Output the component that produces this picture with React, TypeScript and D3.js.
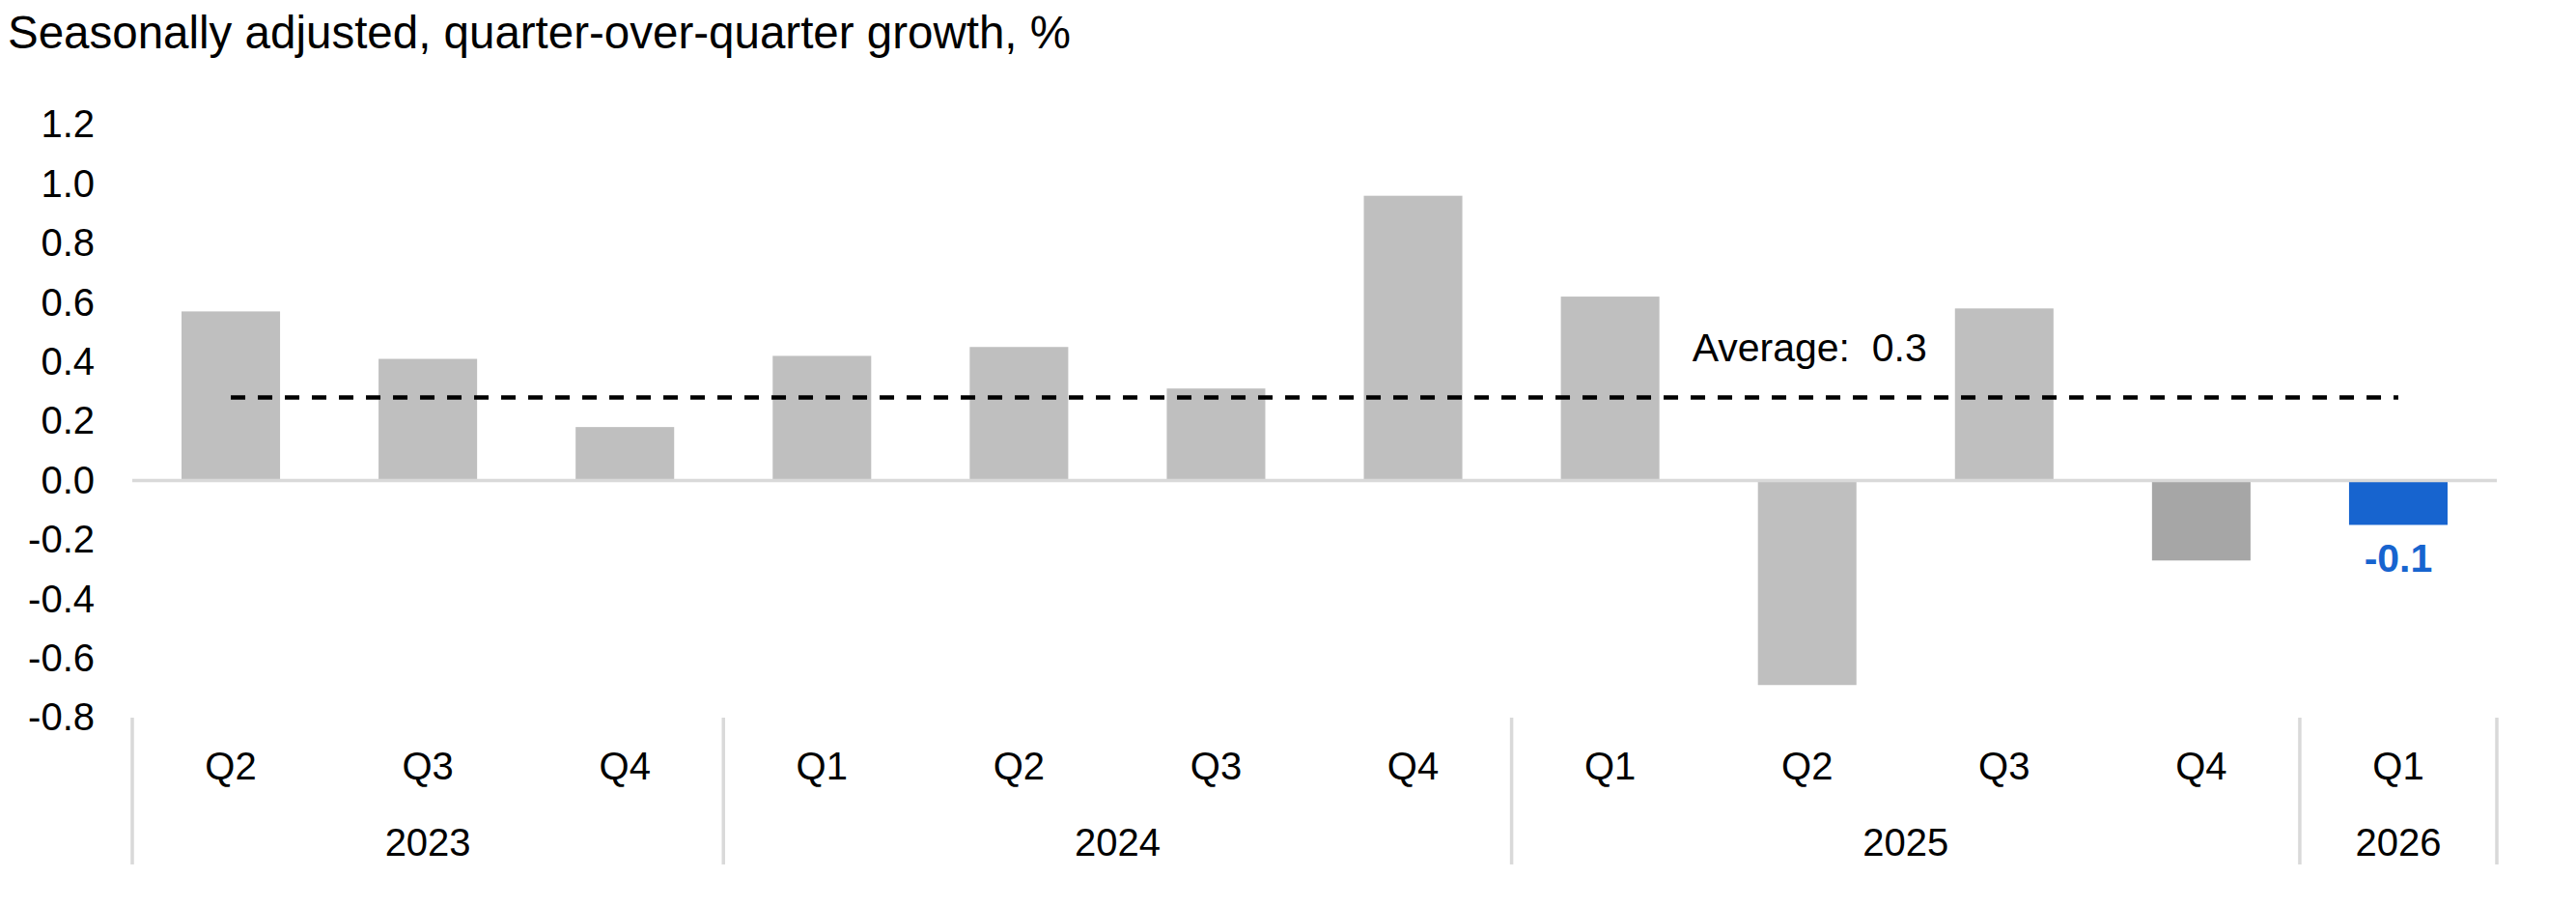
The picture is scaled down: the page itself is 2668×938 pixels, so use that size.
import { useEffect, useRef } from "react";
import * as d3 from "d3";

const W = 2668, H = 938;
const FONT = "'Liberation Sans', Arial, Helvetica, sans-serif";
const GRAY = "#bfbfbf";
const DARK = "#a6a6a6";
const BLUE = "#1764cf";
const RULE = "#d9d9d9";

// Quarterly growth, % q/q (seasonally adjusted)
const quarters = ["Q2", "Q3", "Q4", "Q1", "Q2", "Q3", "Q4", "Q1", "Q2", "Q3", "Q4", "Q1"];
const years = ["2023", "2024", "2025", "2026"];
const yearSpans = [3, 4, 4, 1];
const growth = [0.57, 0.41, 0.18, 0.42, 0.45, 0.31, 0.96, 0.62, -0.69, 0.58, -0.27, -0.15];
const average = 0.28;
const yTicks = [-0.8, -0.6, -0.4, -0.2, 0.0, 0.2, 0.4, 0.6, 0.8, 1.0, 1.2];

export default function App() {
  const ref = useRef<SVGSVGElement>(null);

  useEffect(() => {
    if (!ref.current) return;
    const svg = d3.select(ref.current);
    svg.selectAll("*").remove();

    const ML = 137, MR = 82, MT = 129, PB = 743;
    const keys = quarters.map((q, i) => `${i}-${q}`);

    const x = d3.scaleBand<string>().domain(keys)
      .range([ML, W - MR]).paddingInner(0.5).paddingOuter(0.25);
    const y = d3.scaleLinear().domain([-0.8, 1.2]).range([PB, MT]);
    const step = x.step();
    const bw = x.bandwidth();

    // Title
    svg.append("text").attr("x", 8).attr("y", 50)
      .attr("font-family", FONT).attr("font-size", 47.5).attr("fill", "#000")
      .text("Seasonally adjusted, quarter-over-quarter growth, %");

    // Y axis labels
    svg.append("g").attr("transform", `translate(${ML},0)`)
      .call(d3.axisLeft(y).tickValues(yTicks).tickSize(0).tickPadding(39)
        .tickFormat(v => (+v).toFixed(1)))
      .call(g => g.select(".domain").remove())
      .call(g => g.selectAll("text").attr("font-family", FONT)
        .attr("font-size", 40).attr("fill", "#000"));

    // Bars
    const n = growth.length;
    const colorFor = (i: number) => (i === n - 1 ? BLUE : i === n - 2 ? DARK : GRAY);
    svg.append("g").selectAll("rect").data(growth).join("rect")
      .attr("x", (_, i) => x(keys[i])!)
      .attr("y", d => y(Math.max(0, d)))
      .attr("width", bw)
      .attr("height", d => Math.abs(y(d) - y(0)))
      .attr("fill", (_, i) => colorFor(i));

    // Zero line
    svg.append("line")
      .attr("x1", ML).attr("x2", W - MR).attr("y1", y(0)).attr("y2", y(0))
      .attr("stroke", RULE).attr("stroke-width", 3.5);

    // Average line (first bar centre to last bar centre)
    const cx = (i: number) => x(keys[i])! + bw / 2;
    svg.append("line")
      .attr("x1", cx(0)).attr("x2", cx(n - 1))
      .attr("y1", y(average)).attr("y2", y(average))
      .attr("stroke", "#000").attr("stroke-width", 4.5)
      .attr("stroke-dasharray", "15 13");
    svg.append("text")
      .attr("x", x(keys[7])! + bw + 34).attr("y", y(average) - 37)
      .attr("font-family", FONT).attr("font-size", 41).attr("fill", "#000")
      .style("white-space", "pre")
      .text(`Average:  ${average.toFixed(1)}`);

    // Latest value label
    const last = growth[n - 1];
    svg.append("text")
      .attr("x", cx(n - 1)).attr("y", y(last) + 49)
      .attr("text-anchor", "middle").attr("font-family", FONT)
      .attr("font-size", 41).attr("font-weight", 700).attr("fill", BLUE)
      .text(last.toFixed(1));

    // Category axis: quarter and year labels with group separators
    const xAxis = svg.append("g").attr("font-family", FONT).attr("font-size", 40);
    quarters.forEach((q, i) => {
      xAxis.append("text").attr("x", cx(i)).attr("y", 807)
        .attr("text-anchor", "middle").attr("fill", "#000").text(q);
    });
    let start = 0;
    const bounds = [0];
    years.forEach((yr, k) => {
      const span = yearSpans[k];
      const mid = ML + (start + span / 2) * step;
      xAxis.append("text").attr("x", mid).attr("y", 886)
        .attr("text-anchor", "middle").attr("fill", "#000").text(yr);
      start += span;
      bounds.push(start);
    });
    bounds.forEach(b => {
      xAxis.append("line")
        .attr("x1", ML + b * step).attr("x2", ML + b * step)
        .attr("y1", PB).attr("y2", 895)
        .attr("stroke", RULE).attr("stroke-width", 3.5);
    });
  }, []);

  return (
    <svg ref={ref} width={W} height={H}
      style={{ position: "absolute", left: 0, top: 0, display: "block", background: "#fff" }} />
  );
}
